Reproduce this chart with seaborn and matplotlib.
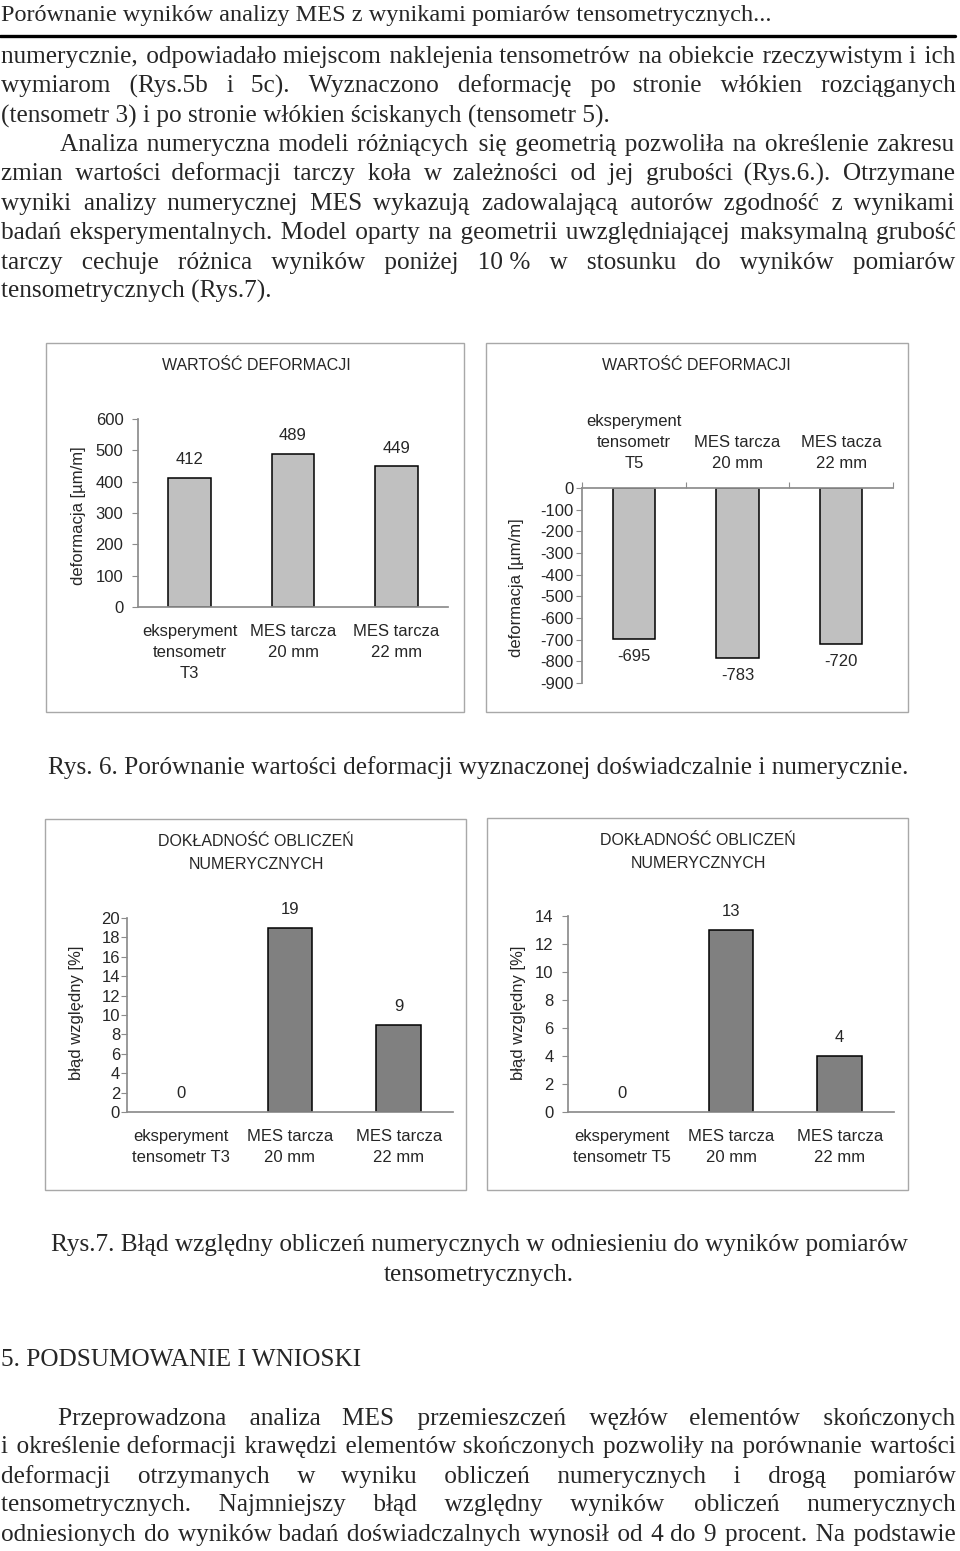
import numpy as np
import pandas as pd
import matplotlib
matplotlib.use("Agg")
import matplotlib.pyplot as plt
import seaborn as sns
from matplotlib.patches import Rectangle
from matplotlib.lines import Line2D

# ---------------- data ----------------
cats_def_t3 = ["eksperyment\ntensometr\nT3", "MES tarcza\n20 mm", "MES tarcza\n22 mm"]
vals_def_t3 = [412, 489, 449]
ticks_def_t3 = [0, 100, 200, 300, 400, 500, 600]

cats_def_t5 = ["eksperyment\ntensometr\nT5", "MES tarcza\n20 mm", "MES tacza\n22 mm"]
vals_def_t5 = [-695, -783, -720]
ticks_def_t5 = [-900, -800, -700, -600, -500, -400, -300, -200, -100, 0]

cats_err_t3 = ["eksperyment\ntensometr T3", "MES tarcza\n20 mm", "MES tarcza\n22 mm"]
vals_err_t3 = [0, 19, 9]
ticks_err_t3 = [0, 2, 4, 6, 8, 10, 12, 14, 16, 18, 20]

cats_err_t5 = ["eksperyment\ntensometr T5", "MES tarcza\n20 mm", "MES tarcza\n22 mm"]
vals_err_t5 = [0, 13, 4]
ticks_err_t5 = [0, 2, 4, 6, 8, 10, 12, 14]

title_def = "WARTOŚĆ DEFORMACJI"
title_err = "DOKŁADNOŚĆ OBLICZEŃ\nNUMERYCZNYCH"
ylabel_def = "deformacja [µm/m]"
ylabel_err = "błąd względny [%]"

header_text = "Porównanie wyników analizy MES z wynikami pomiarów tensometrycznych..."
para1 = [
    ("numerycznie, odpowiadało miejscom naklejenia tensometrów na obiekcie rzeczywistym i ich", True),
    ("wymiarom (Rys.5b i 5c). Wyznaczono deformację po stronie włókien rozciąganych", True),
    ("(tensometr 3) i po stronie włókien ściskanych (tensometr 5).", False),
]
para2 = [
    ("Analiza numeryczna modeli różniących się geometrią pozwoliła na określenie zakresu", True),
    ("zmian wartości deformacji tarczy koła w zależności od jej grubości (Rys.6.). Otrzymane", True),
    ("wyniki analizy numerycznej MES wykazują zadowalającą autorów zgodność z wynikami", True),
    ("badań eksperymentalnych. Model oparty na geometrii uwzględniającej maksymalną grubość", True),
    ("tarczy cechuje różnica wyników poniżej 10\u00a0% w stosunku do wyników pomiarów", True),
    ("tensometrycznych (Rys.7).", False),
]
caption6 = "Rys. 6. Porównanie wartości deformacji wyznaczonej doświadczalnie i numerycznie."
caption7_l1 = "Rys.7. Błąd względny obliczeń numerycznych w odniesieniu do wyników pomiarów"
caption7_l2 = "tensometrycznych."
section_title = "5. PODSUMOWANIE I WNIOSKI"
para3 = [
    ("Przeprowadzona analiza MES przemieszczeń węzłów elementów skończonych", True),
    ("i określenie deformacji krawędzi elementów skończonych pozwoliły na porównanie wartości", True),
    ("deformacji otrzymanych w wyniku obliczeń numerycznych i drogą pomiarów", True),
    ("tensometrycznych. Najmniejszy błąd względny wyników obliczeń numerycznych", True),
    ("odniesionych do wyników badań doświadczalnych wynosił od 4 do 9 procent. Na podstawie", True),
]

# ---------------- setup ----------------
sns.set_theme(style="white")
plt.rcParams["font.family"] = ["Liberation Sans", "DejaVu Sans"]
W, H = 960, 1551
fig = plt.figure(figsize=(W / 100, H / 100), dpi=100)
fig.patch.set_facecolor("white")
renderer = fig.canvas.get_renderer()
SERIF = ["Liberation Serif", "DejaVu Serif"]
TXT = 18.2
BASE_OFF = 6.5   # baseline offset below visual line centre (px)
GRAY = "#8c8c8c"
HS = "\u200a"    # hair space used for justification


def fy(y):
    return 1 - y / H


def stext(x, y, s, size=TXT, ha="left"):
    return fig.text(x / W, fy(y + BASE_OFF), s, fontsize=size, family=SERIF, ha=ha, va="baseline")


def text_width(s, size):
    t = fig.text(0, 0, s, fontsize=size, family=SERIF)
    w = t.get_window_extent(renderer).width
    t.remove()
    return w


def place_line(text, x0, x1, y, justify=True, size=TXT):
    words = text.split(" ")
    if not justify or len(words) == 1:
        stext(x0, y, text, size)
        return
    n = len(words) - 1
    target = x1 - x0
    while True:
        w0 = text_width(" ".join(words), size)
        extra = target - w0
        if extra >= 0 or size < 10:
            break
        size -= 0.1
    hair = (text_width("x" + HS * 40 + "x", size) - text_width("xx", size)) / 40
    s = words[0]
    acc, used = 0.0, 0
    for i in range(1, len(words)):
        acc += extra / n
        k = int(round(acc / hair)) - used if hair > 0.2 else 0
        used += k
        s += " " + HS * k + words[i]
    stext(x0, y, s, size)


# header
stext(1, 14, header_text, 17.5)
fig.add_artist(Line2D([0, 955 / W], [fy(36), fy(36)], color="black", lw=2.4, transform=fig.transFigure))

y = 57
for t, j in para1:
    place_line(t, 1, 955, y, j)
    y += 29.3
for i, (t, j) in enumerate(para2):
    place_line(t, 60 if i == 0 else 1, 955, y, j)
    y += 29.3

stext(478, 768, caption6, ha="center")
stext(479, 1245, caption7_l1, ha="center")
stext(479, 1274, caption7_l2, ha="center")
stext(1, 1360, section_title)
y = 1418
for i, (t, j) in enumerate(para3):
    place_line(t, 58 if i == 0 else 1, 955, y, j)
    y += 29.0


# ---------------- charts ----------------
def frame(x0, x1, y0, y1):
    fig.add_artist(Rectangle((x0 / W, fy(y1)), (x1 - x0) / W, (y1 - y0) / H, transform=fig.transFigure,
                             facecolor="none", edgecolor="#a8a8a8", lw=1.0))


def add_ax(x0, x1, ytop, ybot):
    return fig.add_axes([x0 / W, fy(ybot), (x1 - x0) / W, (ybot - ytop) / H])


def bar_chart(ax, cats, vals, ticks, color, top_axis, ypad):
    df = pd.DataFrame({"cat": cats, "val": vals})
    sns.barplot(data=df, x="cat", y="val", ax=ax, color=color, saturation=1,
                edgecolor="black", linewidth=1.1, width=0.41)
    ax.set_xlim(-0.5, len(cats) - 0.5)
    ax.set_ylim(ticks[0], ticks[-1])
    ax.set_yticks(ticks)
    ax.set_yticklabels([str(t) for t in ticks])
    ax.set_xlabel("")
    ax.set_ylabel("")
    ax.set_facecolor("none")
    for s in ax.spines.values():
        s.set_visible(False)
    ax.spines["left"].set_visible(True)
    ax.spines["left"].set_color(GRAY)
    side = "top" if top_axis else "bottom"
    ax.spines[side].set_visible(True)
    ax.spines[side].set_color(GRAY)
    if top_axis:
        ax.xaxis.tick_top()
    ax.set_xticks([-0.5, 0.5, 1.5, 2.5], minor=True)
    ax.tick_params(axis="x", which="major", length=0, pad=12.5, labelsize=12)
    ax.tick_params(axis="x", which="minor", length=4, color=GRAY, width=0.8, direction="out")
    ax.tick_params(axis="y", which="major", length=4, color=GRAY, width=0.8, pad=ypad, labelsize=12,
                   direction="out", left=True)
    for lbl in ax.get_xticklabels():
        lbl.set_linespacing(1.5)
    ax.grid(False)
    for p, v in zip(ax.containers[0], vals):
        if v == 0:
            p.set_edgecolor("none")
        cx = p.get_x() + p.get_width() / 2
        off = 18 if v >= 0 else -18
        ax.annotate(str(v), (cx, v), xytext=(0, off), textcoords="offset pixels",
                    ha="center", va="center", fontsize=12)


# chart 1
frame(46, 464, 343, 712)
fig.text(256 / W, fy(365), title_def, fontsize=11.5, ha="center", va="center")
fig.text(78 / W, fy(516), ylabel_def, fontsize=12, rotation=90, ha="center", va="center")
ax1 = add_ax(138, 448, 419, 607)
bar_chart(ax1, cats_def_t3, vals_def_t3, ticks_def_t3, "#c0c0c0", False, 6.5)

# chart 2
frame(486, 908, 343, 712)
fig.text(696 / W, fy(365), title_def, fontsize=11.5, ha="center", va="center")
fig.text(517 / W, fy(588), ylabel_def, fontsize=12, rotation=90, ha="center", va="center")
ax2 = add_ax(582, 893, 488, 683)
bar_chart(ax2, cats_def_t5, vals_def_t5, ticks_def_t5, "#c0c0c0", True, 2.0)

# chart 3
frame(45, 466, 819, 1190)
fig.text(256 / W, fy(853), title_err, fontsize=11.5, ha="center", va="center", linespacing=1.65)
fig.text(77 / W, fy(1013), ylabel_err, fontsize=12, rotation=90, ha="center", va="center")
ax3 = add_ax(127, 453, 918, 1112)
bar_chart(ax3, cats_err_t3, vals_err_t3, ticks_err_t3, "#808080", False, 1.0)

# chart 4
frame(487, 908, 818, 1190)
fig.text(698 / W, fy(852), title_err, fontsize=11.5, ha="center", va="center", linespacing=1.65)
fig.text(518 / W, fy(1013), ylabel_err, fontsize=12, rotation=90, ha="center", va="center")
ax4 = add_ax(568, 894, 916, 1112)
bar_chart(ax4, cats_err_t5, vals_err_t5, ticks_err_t5, "#808080", False, 6.5)

fig.savefig("out.png", dpi=100, facecolor="white")
